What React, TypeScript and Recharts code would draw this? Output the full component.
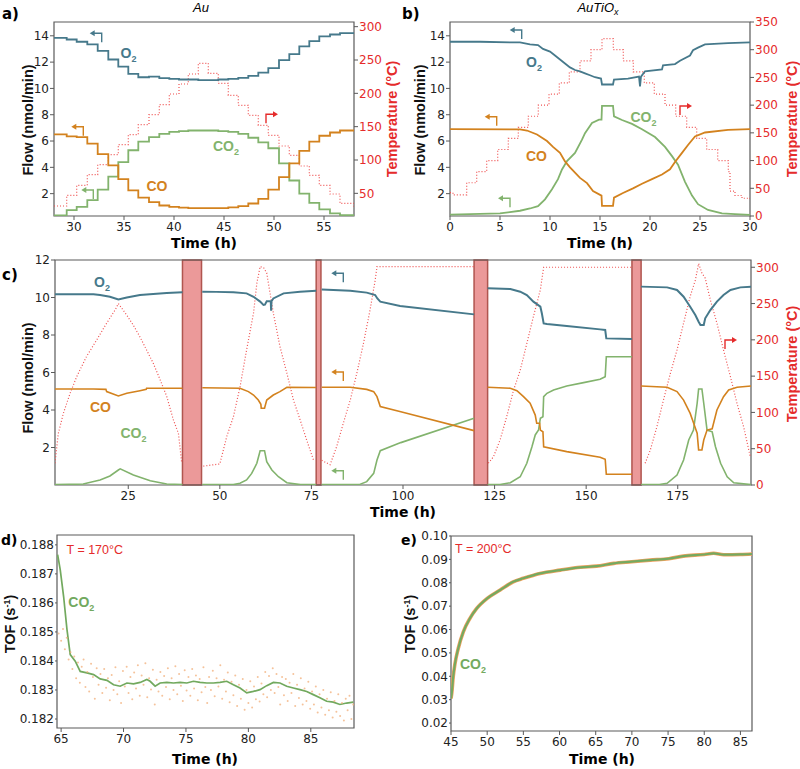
import React from 'react';
import { ComposedChart, Line, Scatter, XAxis, YAxis, ReferenceArea } from 'recharts';

const O2C = '#46798b';
const COC = '#d3821e';
const CO2C = '#82b36d';
const TDOT = '#ef5050';
const RED = '#e52b2b';
const FRAME = '#5a5a5a';

// ---------- panel a (Au) ----------
const aStepTimes = [28, 29.27, 30.27, 31.33, 32.37, 33.43, 34.43, 35.43, 36.43, 37.5, 38.53, 39.53, 40.5, 41.43, 42.43, 43.43, 44.43, 45.43, 46.43, 47.43, 48.43, 49.43, 50.5, 51.53, 52.53, 53.53, 54.53, 55.6, 56.6, 58];
const aO2 = [13.85, 13.72, 13.55, 13.35, 12.85, 12.2, 11.65, 11.1, 10.85, 10.9, 10.78, 10.72, 10.68, 10.68, 10.63, 10.63, 10.68, 10.72, 10.8, 10.95, 11.2, 11.55, 12.15, 12.6, 13.2, 13.6, 13.95, 14.1, 14.2, 14.2];
const aCO = [6.5, 6.35, 6.3, 5.8, 5.0, 4.15, 3.1, 2.25, 1.7, 1.35, 1.1, 1.0, 0.93, 0.9, 0.9, 0.9, 0.9, 0.95, 1.05, 1.25, 1.6, 2.3, 3.25, 4.3, 5.25, 5.95, 6.4, 6.65, 6.8, 6.8];
const aCO2 = [0.35, 0.75, 1.0, 1.5, 2.3, 3.3, 4.4, 5.3, 5.95, 6.3, 6.55, 6.7, 6.75, 6.8, 6.8, 6.8, 6.75, 6.7, 6.55, 6.25, 5.9, 5.45, 4.3, 3.0, 2.0, 1.3, 0.8, 0.5, 0.37, 0.37];
const aTemp = [31, 47, 62, 78, 93, 108, 123, 138, 153, 168, 183, 199, 214, 229, 245, 230, 215, 197, 182, 167, 152, 137, 121, 107, 91, 77, 62, 49, 35, 30];
const aXTicks = [30, 35, 40, 45, 50, 55];
const aTTicks = [50, 100, 150, 200, 250, 300];
const flowTicks = [2, 4, 6, 8, 10, 12, 14];

// ---------- panel b (AuTiOx) ----------
const bO2Times = [0, 3, 6, 7, 8, 8.8, 9.3, 10, 10.5, 11, 11.5, 12, 12.5, 13, 13.5, 14, 14.5, 15.1, 15.2, 16.3, 16.4, 17.8, 18.9, 19.0, 19.1, 19.5, 21.2, 21.3, 22.5, 23, 24.0, 24.3, 24.8, 25.5, 27.8, 30];
const bO2 = [13.55, 13.55, 13.5, 13.5, 13.35, 13.3, 13.0, 12.8, 12.5, 12.2, 11.9, 11.6, 11.4, 11.3, 11.15, 11.0, 10.85, 10.75, 10.3, 10.3, 10.67, 10.75, 10.9, 10.15, 10.9, 11.3, 11.45, 11.75, 11.85, 12.1, 12.5, 12.9, 13.1, 13.35, 13.45, 13.5];
const bCOTimes = [0, 7, 7.7, 8.7, 9.7, 10.3, 11, 11.5, 12, 12.5, 13, 13.7, 14.3, 15.15, 15.2, 16.3, 16.4, 17.3, 18.3, 19.2, 20.2, 21.2, 22, 22.5, 23.2, 23.8, 24.5, 25.5, 27.8, 30];
const bCO = [6.9, 6.88, 6.8, 6.5, 6.0, 5.55, 5.1, 4.45, 4.0, 3.6, 3.2, 2.8, 2.2, 1.85, 1.07, 1.07, 1.7, 2.05, 2.4, 2.75, 3.1, 3.45, 3.85, 4.4, 5.1, 5.7, 6.35, 6.65, 6.85, 6.9];
const bCO2Times = [0, 5, 7, 8, 8.8, 9.5, 10.2, 10.8, 11.2, 11.7, 12.5, 13.2, 13.5, 14.2, 14.9, 15.15, 15.2, 16.3, 16.4, 17.2, 18.2, 19.2, 20.5, 21.5, 22.2, 22.8, 23.5, 24.2, 24.8, 25.8, 27.2, 28.5, 30];
const bCO2 = [0.4, 0.5, 0.7, 0.87, 1.05, 1.57, 2.33, 3.1, 3.84, 4.47, 5.1, 6.1, 6.6, 7.37, 7.62, 7.62, 8.68, 8.68, 7.87, 7.6, 7.3, 6.9, 6.3, 5.55, 4.85, 4.2, 2.9, 1.85, 1.2, 0.76, 0.5, 0.44, 0.38];
const bTTimes = [0, 0.3, 1.67, 2.67, 3.67, 4.77, 5.83, 6.83, 7.83, 8.83, 9.9, 10.93, 11.93, 13.0, 14.1, 15.2, 16.33, 17.33, 18.33, 19.43, 20.43, 21.5, 22.57, 23.67, 24.67, 25.67, 26.77, 27.83, 28.0, 28.5, 29.2, 30];
const bTemp = [42, 38, 60, 80, 100, 120, 140, 160, 180, 200, 220, 240, 260, 280, 300, 320, 300, 280, 260, 240, 220, 200, 180, 160, 140, 120, 100, 80, 45, 37, 32, 29];
const bXTicks = [0, 5, 10, 15, 20, 25, 30];
const bTTicks = [0, 50, 100, 150, 200, 250, 300, 350];

// ---------- panel c (long run) ----------
const cO2Times = [5, 15.5, 17.3, 20, 22.3, 24.6, 28.2, 31.8, 35.5, 39.8, 42, 45.2, 49, 53.7, 57.3, 59.2, 61, 61.9, 62.3, 62.8, 63.9, 64.0, 64.1, 64.6, 67.4, 71.9, 76.3, 77, 77.8, 81, 85.6, 90.1, 92.4, 93.0, 93.8, 99.2, 119.4, 121, 123.1, 129.3, 132, 133.8, 135.6, 137.5, 137.9, 138.4, 139.3, 144.7, 153.8, 155.2, 155.5, 162.5, 163.5, 165, 172.1, 174.8, 176.6, 178.4, 179.8, 180.7, 181.2, 182.1, 182.5, 183.9, 185.7, 187.5, 189.4, 192.1, 195];
const cO2 = [10.17, 10.17, 10.13, 10.04, 9.9, 10.0, 10.13, 10.19, 10.24, 10.28, null, 10.31, 10.3, 10.28, 10.22, 10.04, 9.78, 9.6, 9.62, 9.8, 9.8, 9.3, 9.8, 9.95, 10.22, 10.31, 10.36, null, 10.43, 10.4, 10.36, 10.26, 10.13, 9.95, 9.78, 9.55, 9.1, null, 10.49, 10.45, 10.31, 10.13, 9.78, 9.51, 9.16, 8.62, 8.59, 8.48, 8.3, 8.27, 7.82, 7.79, null, 10.58, 10.54, 10.4, 10.04, 9.51, 9.07, 8.71, 8.53, 8.53, 8.89, 9.33, 9.78, 10.13, 10.4, 10.54, 10.58];
const cCOTimes = [5, 15.5, 18.9, 19.1, 22.3, 24.6, 28.2, 29.9, 30.0, 39.8, 42, 45.2, 55.5, 57.8, 59.2, 60.5, 61.2, 61.3, 62.2, 62.8, 64.6, 66.4, 68.3, 76.3, 77, 77.8, 85.6, 90.1, 92, 92.9, 93.8, 99.4, 119.4, 121, 123.1, 129.3, 131.1, 132.9, 134.7, 136.1, 136.5, 137.3, 137.5, 138.2, 138.4, 144.7, 153.8, 155.2, 155.5, 162.5, 163.5, 165, 172.1, 174.8, 176.6, 178.4, 179.3, 180.3, 180.7, 181.6, 182.1, 183, 184.4, 185.7, 187.5, 188.9, 191.2, 195];
const cCO = [5.12, 5.12, 5.1, 4.98, 4.75, 4.89, 5.03, 5.1, 5.16, 5.16, null, 5.19, 5.16, 4.98, 4.8, 4.53, 4.3, 4.09, 4.09, 4.53, 4.8, 4.98, 5.21, 5.2, null, 5.21, 5.21, 5.1, 4.98, 4.71, 4.18, 3.91, 2.9, null, 5.21, 5.16, 5.03, 4.71, 4.36, 3.73, 3.29, 3.29, 2.93, 2.84, 2.04, 1.78, 1.48, 1.37, 0.57, 0.57, null, 5.28, 5.21, 4.98, 4.53, 3.82, 3.32, 2.76, 1.87, 1.87, 2.4, 2.93, 3.0, 4.0, 4.71, 5.07, 5.21, 5.28];
const cCO2Times = [5, 12.7, 17.3, 20, 22.3, 22.8, 26.4, 31, 35.5, 39.8, 42, 45.2, 53.7, 55.5, 57.3, 58.7, 60.1, 61, 62.2, 62.8, 64.2, 66, 68.3, 72, 76.3, 77, 77.8, 88, 90.1, 92, 92.9, 93.8, 99.4, 119.4, 121, 123.1, 126.5, 129.3, 132, 133.8, 135.2, 136.1, 137, 137.5, 138.2, 138.4, 139.3, 141.1, 144.7, 149.3, 153.8, 155.2, 155.5, 162.5, 163.5, 165, 170, 172.1, 174.8, 176.6, 178, 179.3, 180.3, 180.7, 181.6, 182.1, 183, 184.4, 185.3, 186.7, 188.5, 190.3, 195];
const cCO2 = [0.02, 0.05, 0.27, 0.48, 0.8, 0.86, 0.53, 0.23, 0.05, 0.02, null, 0.02, 0.02, 0.09, 0.27, 0.62, 1.16, 1.83, 1.83, 1.24, 0.8, 0.44, 0.12, 0.02, 0.02, null, 0.02, 0.02, 0.18, 0.62, 1.33, 1.83, 2.26, 3.56, null, 0.02, 0.03, 0.12, 0.44, 1.16, 2.04, 2.67, 2.93, 3.56, 3.64, 4.71, 4.89, 5.07, 5.28, 5.46, 5.64, 5.78, 6.84, 6.84, null, 0.02, 0.03, 0.09, 0.53, 1.33, 2.4, 2.93, 4.36, 5.12, 5.12, 4.36, 2.93, 2.84, 2.04, 1.16, 0.44, 0.12, 0.02];
const cTTimes = [5, 5.9, 7.3, 9.1, 10.9, 13.6, 16.4, 19.1, 21.4, 22.3, 24.6, 26.4, 28.2, 30, 31.8, 33.7, 35.5, 37.3, 38.7, 39.6, 42, 45.5, 50, 51.9, 53.7, 55.5, 57.3, 59.2, 60.1, 61, 62, 62.8, 64.6, 66.4, 68.3, 70.1, 71.9, 73.7, 75.6, 77, 77.8, 80.1, 81.9, 83.7, 85.6, 87.4, 89.2, 91, 92.4, 92.9, 119.4, 121, 123.3, 124.7, 126.5, 128.3, 130.2, 132, 133.8, 135.6, 137.5, 138.4, 162.5, 164, 166.1, 167.5, 169.3, 171.1, 173, 174.8, 176.6, 178.4, 179.8, 180.7, 181.6, 182.5, 183.9, 185.7, 187.5, 189.4, 191.2, 193, 194.8];
const cTemp = [30, 71, 99, 126, 149, 177, 200, 223, 241, 250, 234, 220, 204, 186, 168, 145, 122, 90, 71, 30, null, 26, 29, 67, 94, 135, 186, 237, 278, 301, 299, 292, 237, 191, 154, 117, 90, 62, 34, null, 34, 28, 53, 85, 117, 154, 195, 241, 282, 301, 301, null, 30, 39, 62, 94, 131, 158, 195, 232, 269, 300, 300, null, 30, 48, 80, 117, 154, 186, 223, 260, 282, 305, 292, 285, 255, 223, 186, 149, 112, 80, 39];
const cBandStarts = [39.8, 76.3, 119.4, 162.5];
const cBandEnds = [45.0, 77.6, 123.1, 165.0];
const cXTicks = [25, 50, 75, 100, 125, 150, 175];
const cFlowTicks = [2, 4, 6, 8, 10, 12];
const cTTicks = [0, 50, 100, 150, 200, 250, 300];

// ---------- panel d (TOF at 170 °C) ----------
const dTimes = [64.72, 64.93, 65.2, 65.47, 65.73, 66.13, 66.53, 67.07, 67.6, 68.13, 68.67, 69.2, 69.73, 70.27, 70.8, 71.33, 71.87, 72.13, 72.53, 72.93, 73.47, 74, 74.53, 75.07, 75.6, 76.13, 76.67, 77.2, 77.73, 78.27, 78.8, 79.33, 79.87, 80.4, 80.93, 81.47, 82, 82.53, 83.07, 83.6, 84.13, 84.67, 85.2, 85.73, 86.27, 86.8, 87.33, 87.87, 88.4];
const dTOF = [0.18766, 0.18714, 0.18622, 0.18508, 0.18422, 0.18399, 0.18364, 0.18359, 0.18353, 0.18338, 0.18333, 0.18318, 0.18313, 0.18324, 0.18321, 0.18326, 0.18336, 0.1833, 0.18313, 0.18324, 0.18326, 0.18324, 0.18326, 0.18324, 0.1833, 0.18326, 0.18324, 0.18324, 0.18326, 0.1833, 0.18318, 0.18307, 0.1829, 0.18295, 0.18301, 0.18315, 0.18326, 0.18324, 0.18313, 0.18307, 0.18301, 0.18295, 0.18284, 0.18273, 0.18261, 0.18258, 0.1825, 0.18255, 0.18258];
const dDots: [number, number][] = [
  [64.8, 0.18495], [65.0, 0.1847], [65.15, 0.1851], [65.3, 0.1844], [65.45, 0.1848], [65.6, 0.18405], [65.75, 0.1843], [65.9, 0.18372], [66.05, 0.18415], [66.2, 0.1834],
  [66.35, 0.18395], [66.5, 0.18325], [66.65, 0.1838], [66.8, 0.18405], [66.95, 0.1831], [67.1, 0.18362], [67.25, 0.18295], [67.4, 0.1839], [67.55, 0.18345], [67.7, 0.1827],
  [67.85, 0.18375], [68.0, 0.18318], [68.15, 0.18355], [68.3, 0.1829], [68.45, 0.18372], [68.6, 0.18308], [68.75, 0.1834], [68.9, 0.18265], [69.05, 0.18352], [69.2, 0.183],
  [69.35, 0.18378], [69.5, 0.18285], [69.65, 0.1833], [69.8, 0.18255], [69.95, 0.18365], [70.1, 0.18312], [70.25, 0.1838], [70.4, 0.1829], [70.55, 0.18345], [70.7, 0.18268],
  [70.85, 0.1836], [71.0, 0.18305], [71.15, 0.18385], [71.3, 0.1828], [71.45, 0.1835], [71.6, 0.18318], [71.75, 0.18392], [71.9, 0.18275], [72.05, 0.1834], [72.2, 0.18302],
  [72.35, 0.1837], [72.5, 0.1825], [72.65, 0.18335], [72.8, 0.18295], [72.95, 0.18362], [73.1, 0.1828], [73.25, 0.18348], [73.4, 0.1831], [73.55, 0.18375], [73.7, 0.18268],
  [73.85, 0.1834], [74.0, 0.183], [74.15, 0.18382], [74.3, 0.18285], [74.45, 0.18355], [74.6, 0.18315], [74.75, 0.18262], [74.9, 0.18368], [75.05, 0.18298], [75.2, 0.18345],
  [75.35, 0.1828], [75.5, 0.18372], [75.65, 0.18305], [75.8, 0.1835], [75.95, 0.18265], [76.1, 0.18338], [76.25, 0.18292], [76.4, 0.18378], [76.55, 0.1831], [76.7, 0.18255],
  [76.85, 0.18345], [77.0, 0.183], [77.15, 0.18366], [77.3, 0.18278], [77.45, 0.1834], [77.6, 0.18312], [77.75, 0.18385], [77.9, 0.1827], [78.05, 0.18335], [78.2, 0.18295],
  [78.35, 0.1836], [78.5, 0.18258], [78.65, 0.18328], [78.8, 0.18282], [78.95, 0.1835], [79.1, 0.18245], [79.25, 0.18318], [79.4, 0.1827], [79.55, 0.18338], [79.7, 0.18232],
  [79.85, 0.183], [80.0, 0.18255], [80.15, 0.1833], [80.3, 0.1824], [80.45, 0.18312], [80.6, 0.18268], [80.75, 0.18345], [80.9, 0.1826], [81.05, 0.18322], [81.2, 0.18285],
  [81.35, 0.18362], [81.5, 0.18275], [81.65, 0.18348], [81.8, 0.183], [81.95, 0.18375], [82.1, 0.1829], [82.25, 0.18355], [82.4, 0.1831], [82.55, 0.1825], [82.7, 0.18345],
  [82.85, 0.18282], [83.0, 0.18338], [83.15, 0.18262], [83.3, 0.18325], [83.45, 0.1829], [83.6, 0.18355], [83.75, 0.18245], [83.9, 0.18318], [84.05, 0.18272], [84.2, 0.1834],
  [84.35, 0.1825], [84.5, 0.18305], [84.65, 0.18262], [84.8, 0.18328], [84.95, 0.18235], [85.1, 0.18295], [85.25, 0.1825], [85.4, 0.18312], [85.55, 0.18222], [85.7, 0.18285],
  [85.85, 0.1824], [86.0, 0.183], [86.15, 0.18215], [86.3, 0.1827], [86.45, 0.1823], [86.6, 0.18292], [86.75, 0.18205], [86.9, 0.18262], [87.05, 0.18225], [87.2, 0.18285],
  [87.35, 0.1821], [87.5, 0.18255], [87.65, 0.18195], [87.8, 0.1827], [87.95, 0.1823], [88.1, 0.1828], [88.25, 0.182], [88.4, 0.1825]
];
const dXTicks = [65, 70, 75, 80, 85];
const dYTicks = [0.182, 0.183, 0.184, 0.185, 0.186, 0.187, 0.188];

// ---------- panel e (TOF at 200 °C) ----------
const eTimes = [45.0, 45.1, 45.3, 45.55, 46, 46.7, 47.6, 48.55, 50, 51.8, 53.6, 55, 57.3, 60.1, 62.9, 65.1, 67.5, 70, 72.5, 75.1, 77.1, 80, 81.3, 82.7, 85, 86.6];
const eTOF = [0.0305, 0.0326, 0.0397, 0.0454, 0.0519, 0.059, 0.0647, 0.069, 0.0733, 0.0769, 0.0804, 0.0819, 0.084, 0.0854, 0.0866, 0.0871, 0.0883, 0.089, 0.0897, 0.0903, 0.0914, 0.0921, 0.0926, 0.092, 0.0921, 0.0923];
const eXTicks = [45, 50, 55, 60, 65, 70, 75, 80, 85];
const eYTicks = [0.02, 0.03, 0.04, 0.05, 0.06, 0.07, 0.08, 0.09, 0.1];

const zip = (ts: number[], vs: (number | null)[]) => ts.map((t, i) => ({ t, v: vs[i] }));

const aO2Data = zip(aStepTimes, aO2);
const aCOData = zip(aStepTimes, aCO);
const aCO2Data = zip(aStepTimes, aCO2);
const aTData = zip(aStepTimes, aTemp);
const bO2Data = zip(bO2Times, bO2);
const bCOData = zip(bCOTimes, bCO);
const bCO2Data = zip(bCO2Times, bCO2);
const bTData = zip(bTTimes, bTemp);
const cO2Data = zip(cO2Times, cO2);
const cCOData = zip(cCOTimes, cCO);
const cCO2Data = zip(cCO2Times, cCO2);
const cTData = zip(cTTimes, cTemp);
const dLineData = zip(dTimes, dTOF);
const dDotData = dDots.map(([t, v]) => ({ t, v }));
const eData = zip(eTimes, eTOF);

const tickL = { fontSize: 12, fill: '#222', fontFamily: 'DejaVu Sans' };
const tickR = { fontSize: 12, fill: RED, fontFamily: 'DejaVu Sans' };
const tl = { stroke: FRAME };

const lineCommon = { dot: false, isAnimationActive: false, connectNulls: false } as const;

function ArrowL({ x, y, c }: { x: number; y: number; c: string }) {
  return (
    <g>
      <path d={`M${x} ${y + 9} V${y} H${x - 8}`} stroke={c} strokeWidth={1.4} fill="none" />
      <path d={`M${x - 12} ${y} L${x - 7} ${y - 3} L${x - 7} ${y + 3} Z`} fill={c} />
    </g>
  );
}
function ArrowR({ x, y, c }: { x: number; y: number; c: string }) {
  return (
    <g>
      <path d={`M${x} ${y + 9} V${y} H${x + 8}`} stroke={c} strokeWidth={1.4} fill="none" />
      <path d={`M${x + 12} ${y} L${x + 7} ${y - 3} L${x + 7} ${y + 3} Z`} fill={c} />
    </g>
  );
}

const labFont = { fontFamily: 'Liberation Sans, Arial, sans-serif', fontWeight: 700, fontSize: 14 } as const;
function Chem({ x, y, base, sub, c }: { x: number; y: number; base: string; sub?: string; c: string }) {
  return (
    <text x={x} y={y} fill={c} style={labFont}>
      {base}
      {sub ? <tspan fontSize={9} dy={4}>{sub}</tspan> : null}
    </text>
  );
}

const titleH = { fontFamily: 'DejaVu Sans', fontWeight: 700, fontSize: 14 } as const;
const titleV = { fontFamily: 'Liberation Sans, Arial, sans-serif', fontWeight: 700, fontSize: 14.5 } as const;

function VText({ x, y, text, c, children }: { x: number; y: number; text?: string; c: string; children?: React.ReactNode }) {
  return (
    <text x={x} y={y} transform={`rotate(-90 ${x} ${y})`} textAnchor="middle" fill={c} style={titleV}>
      {text}
      {children}
    </text>
  );
}

export default function App() {
  return (
    <div style={{ position: 'absolute', left: 0, top: 0, width: 800, height: 769, background: '#fff' }}>
      {/* panel a */}
      <div style={{ position: 'absolute', left: 0, top: 0 }}>
        <ComposedChart width={400} height={260} margin={{ top: 22, right: 0, bottom: 0, left: 0 }}>
          <XAxis dataKey="t" type="number" domain={[28, 58]} ticks={aXTicks} allowDataOverflow height={44} axisLine={false} tickLine={tl} tickSize={4} tick={tickL} />
          <YAxis yAxisId="l" type="number" domain={[0.3, 15.05]} ticks={flowTicks} allowDataOverflow width={54} axisLine={false} tickLine={tl} tickSize={4} tickMargin={1} tick={tickL} />
          <YAxis yAxisId="r" orientation="right" type="number" domain={[16, 307]} ticks={aTTicks} allowDataOverflow width={46} axisLine={false} tickLine={tl} tickSize={4} tickMargin={1} tick={tickR} />
          <ReferenceArea yAxisId="l" x1={28} x2={58} y1={0.3} y2={15.05} fill="none" fillOpacity={0} stroke={FRAME} strokeWidth={1.2} ifOverflow="visible" />
          <Line yAxisId="r" data={aTData} dataKey="v" type="stepAfter" stroke={TDOT} strokeWidth={1.2} strokeDasharray="1 2" {...lineCommon} />
          <Line yAxisId="l" data={aCO2Data} dataKey="v" type="stepAfter" stroke={CO2C} strokeWidth={1.8} {...lineCommon} />
          <Line yAxisId="l" data={aCOData} dataKey="v" type="stepAfter" stroke={COC} strokeWidth={1.8} {...lineCommon} />
          <Line yAxisId="l" data={aO2Data} dataKey="v" type="stepAfter" stroke={O2C} strokeWidth={1.8} {...lineCommon} />
        </ComposedChart>
      </div>

      {/* panel b */}
      <div style={{ position: 'absolute', left: 400, top: 0 }}>
        <ComposedChart width={400} height={260} margin={{ top: 22, right: 0, bottom: 0, left: 0 }}>
          <XAxis dataKey="t" type="number" domain={[0, 30]} ticks={bXTicks} allowDataOverflow height={44} axisLine={false} tickLine={tl} tickSize={4} tick={tickL} />
          <YAxis yAxisId="l" type="number" domain={[0.3, 15.05]} ticks={flowTicks} allowDataOverflow width={50} axisLine={false} tickLine={tl} tickSize={4} tickMargin={1} tick={tickL} />
          <YAxis yAxisId="r" orientation="right" type="number" domain={[0, 350]} ticks={bTTicks} allowDataOverflow width={50} axisLine={false} tickLine={tl} tickSize={4} tickMargin={1} tick={tickR} />
          <ReferenceArea yAxisId="l" x1={0} x2={30} y1={0.3} y2={15.05} fill="none" fillOpacity={0} stroke={FRAME} strokeWidth={1.2} ifOverflow="visible" />
          <Line yAxisId="r" data={bTData} dataKey="v" type="stepAfter" stroke={TDOT} strokeWidth={1.2} strokeDasharray="1 2" {...lineCommon} />
          <Line yAxisId="l" data={bCO2Data} dataKey="v" type="linear" stroke={CO2C} strokeWidth={1.8} {...lineCommon} />
          <Line yAxisId="l" data={bCOData} dataKey="v" type="linear" stroke={COC} strokeWidth={1.8} {...lineCommon} />
          <Line yAxisId="l" data={bO2Data} dataKey="v" type="linear" stroke={O2C} strokeWidth={1.8} {...lineCommon} />
        </ComposedChart>
      </div>

      {/* panel c */}
      <div style={{ position: 'absolute', left: 0, top: 240 }}>
        <ComposedChart width={800} height={280} margin={{ top: 20, right: 0, bottom: 0, left: 0 }}>
          <XAxis dataKey="t" type="number" domain={[5, 195]} ticks={cXTicks} allowDataOverflow height={35} axisLine={false} tickLine={tl} tickSize={4} tick={tickL} />
          <YAxis yAxisId="l" type="number" domain={[0, 12]} ticks={cFlowTicks} allowDataOverflow width={55} axisLine={false} tickLine={tl} tickSize={4} tickMargin={1} tick={tickL} />
          <YAxis yAxisId="r" orientation="right" type="number" domain={[0, 310]} ticks={cTTicks} allowDataOverflow width={49} axisLine={false} tickLine={tl} tickSize={4} tickMargin={1} tick={tickR} />
          {cBandStarts.map((s, i) => (
            <ReferenceArea key={i} yAxisId="l" x1={s} x2={cBandEnds[i]} y1={0} y2={12} fill="#e88787" fillOpacity={0.85} stroke="#b0554f" strokeWidth={1.5} ifOverflow="visible" />
          ))}
          <ReferenceArea yAxisId="l" x1={5} x2={195} y1={0} y2={12} fill="none" fillOpacity={0} stroke={FRAME} strokeWidth={1.2} ifOverflow="visible" />
          <Line yAxisId="r" data={cTData} dataKey="v" type="linear" stroke={TDOT} strokeWidth={1.2} strokeDasharray="1 2" {...lineCommon} />
          <Line yAxisId="l" data={cCO2Data} dataKey="v" type="linear" stroke={CO2C} strokeWidth={1.6} {...lineCommon} />
          <Line yAxisId="l" data={cCOData} dataKey="v" type="linear" stroke={COC} strokeWidth={1.6} {...lineCommon} />
          <Line yAxisId="l" data={cO2Data} dataKey="v" type="linear" stroke={O2C} strokeWidth={2} {...lineCommon} />
        </ComposedChart>
      </div>

      {/* panel d */}
      <div style={{ position: 'absolute', left: 0, top: 520 }}>
        <ComposedChart width={400} height={249} margin={{ top: 15, right: 46, bottom: 0, left: 0 }}>
          <XAxis dataKey="t" type="number" domain={[64.67, 88.46]} ticks={dXTicks} allowDataOverflow height={41} axisLine={false} tickLine={tl} tickSize={4} tick={tickL} />
          <YAxis dataKey="v" type="number" domain={[0.18169, 0.18834]} ticks={dYTicks} allowDataOverflow width={57} axisLine={false} tickLine={tl} tickSize={2} tickMargin={1} tick={tickL} tickFormatter={(v: number) => v.toFixed(3)} />
          <ReferenceArea x1={64.67} x2={88.46} y1={0.18169} y2={0.18834} fill="none" fillOpacity={0} stroke={FRAME} strokeWidth={1.2} ifOverflow="visible" />
          <Scatter data={dDotData} dataKey="v" isAnimationActive={false} shape={(p: any) => <circle cx={p.cx} cy={p.cy} r={1} fill="#f2ae78" fillOpacity={0.75} />} />
          <Line data={dLineData} dataKey="v" type="linear" stroke="#72a95e" strokeWidth={1.7} {...lineCommon} />
        </ComposedChart>
      </div>

      {/* panel e */}
      <div style={{ position: 'absolute', left: 400, top: 520 }}>
        <ComposedChart width={400} height={249} margin={{ top: 16, right: 48, bottom: 0, left: 0 }}>
          <XAxis dataKey="t" type="number" domain={[45, 86.6]} ticks={eXTicks} allowDataOverflow height={38} axisLine={false} tickLine={tl} tickSize={4} tick={tickL} />
          <YAxis dataKey="v" type="number" domain={[0.0166, 0.1]} ticks={eYTicks} allowDataOverflow width={51} axisLine={false} tickLine={tl} tickSize={2} tickMargin={1} tick={tickL} tickFormatter={(v: number) => v.toFixed(2)} />
          <ReferenceArea x1={45} x2={86.6} y1={0.0166} y2={0.1} fill="none" fillOpacity={0} stroke={FRAME} strokeWidth={1.2} ifOverflow="visible" />
          <Line data={eData} dataKey="v" type="monotone" stroke="#f0a05e" strokeWidth={3.6} {...lineCommon} />
          <Line data={eData} dataKey="v" type="monotone" stroke="#74aa60" strokeWidth={2.2} {...lineCommon} />
        </ComposedChart>
      </div>

      {/* annotations */}
      <svg width={800} height={769} style={{ position: 'absolute', left: 0, top: 0, pointerEvents: 'none' }}>
        <text x={2} y={19} style={{ fontFamily: 'DejaVu Sans', fontWeight: 700, fontSize: 15 }}>a)</text>
        <text x={402} y={19} style={{ fontFamily: 'DejaVu Sans', fontWeight: 700, fontSize: 15 }}>b)</text>
        <text x={2} y={280} style={{ fontFamily: 'DejaVu Sans', fontWeight: 700, fontSize: 15 }}>c)</text>
        <text x={1} y={545} style={{ fontFamily: 'DejaVu Sans', fontWeight: 700, fontSize: 14 }}>d)</text>
        <text x={401} y={545} style={{ fontFamily: 'DejaVu Sans', fontWeight: 700, fontSize: 14 }}>e)</text>

        <text x={201} y={12} textAnchor="middle" style={{ fontFamily: 'Liberation Sans, Arial', fontStyle: 'italic', fontSize: 13 }}>Au</text>
        <text x={598} y={12} textAnchor="middle" style={{ fontFamily: 'Liberation Sans, Arial', fontStyle: 'italic', fontSize: 13 }}>
          AuTiO<tspan fontSize={9} dy={3}>x</tspan>
        </text>

        <text x={204} y={248} textAnchor="middle" style={titleH}>Time (h)</text>
        <text x={600} y={248} textAnchor="middle" style={titleH}>Time (h)</text>
        <text x={403} y={517} textAnchor="middle" style={titleH}>Time (h)</text>
        <text x={205} y={764} textAnchor="middle" style={titleH}>Time (h)</text>
        <text x={602} y={764} textAnchor="middle" style={titleH}>Time (h)</text>

        <VText x={32.5} y={120} c="#111" text="Flow (nmol/min)" />
        <VText x={396.5} y={119} c={RED} text="Temperature (°C)" />
        <VText x={424.5} y={120} c="#111" text="Flow (nmol/min)" />
        <VText x={797} y={119} c={RED} text="Temperature (°C)" />
        <VText x={32.5} y={378} c="#111" text="Flow (nmol/min)" />
        <VText x={797} y={364} c={RED} text="Temperature (°C)" />
        <VText x={15} y={624} c="#111">
          TOF (s<tspan fontSize={9} dy={-5}>-1</tspan><tspan dy={5}>)</tspan>
        </VText>
        <VText x={415} y={624} c="#111">
          TOF (s<tspan fontSize={9} dy={-5}>-1</tspan><tspan dy={5}>)</tspan>
        </VText>

        <Chem x={120.5} y={57.5} base="O" sub="2" c={O2C} />
        <Chem x={213} y={151} base="CO" sub="2" c={CO2C} />
        <Chem x={146.5} y={190.5} base="CO" c={COC} />
        <ArrowL x={101.7} y={33.3} c={O2C} />
        <ArrowL x={83.3} y={126.7} c={COC} />
        <ArrowL x={93.3} y={190} c={CO2C} />
        <ArrowR x={266} y={114.3} c={RED} />

        <Chem x={526} y={66.5} base="O" sub="2" c={O2C} />
        <Chem x={630.5} y={121.7} base="CO" sub="2" c={CO2C} />
        <Chem x={526} y={160.5} base="CO" c={COC} />
        <ArrowL x={521.7} y={30} c={O2C} />
        <ArrowL x={496.7} y={116.7} c={COC} />
        <ArrowL x={510} y={198.3} c={CO2C} />
        <ArrowR x={680} y={106} c={RED} />

        <Chem x={94} y={286.7} base="O" sub="2" c={O2C} />
        <Chem x={90} y={411.5} base="CO" c={COC} />
        <Chem x={120.5} y={438.3} base="CO" sub="2" c={CO2C} />
        <ArrowL x={343.3} y={273.3} c={O2C} />
        <ArrowL x={343.3} y={372} c={COC} />
        <ArrowL x={343.3} y={470.7} c={CO2C} />
        <ArrowR x={725} y={340} c={RED} />

        <text x={66.5} y={554} fill={RED} style={{ fontFamily: 'Liberation Sans, Arial', fontSize: 12.5 }}>T = 170°C</text>
        <Chem x={68.3} y={607.3} base="CO" sub="2" c="#72a95e" />
        <text x={455} y={553} fill={RED} style={{ fontFamily: 'Liberation Sans, Arial', fontSize: 12.5 }}>T = 200°C</text>
        <Chem x={460} y={669} base="CO" sub="2" c="#74aa60" />
      </svg>
    </div>
  );
}
